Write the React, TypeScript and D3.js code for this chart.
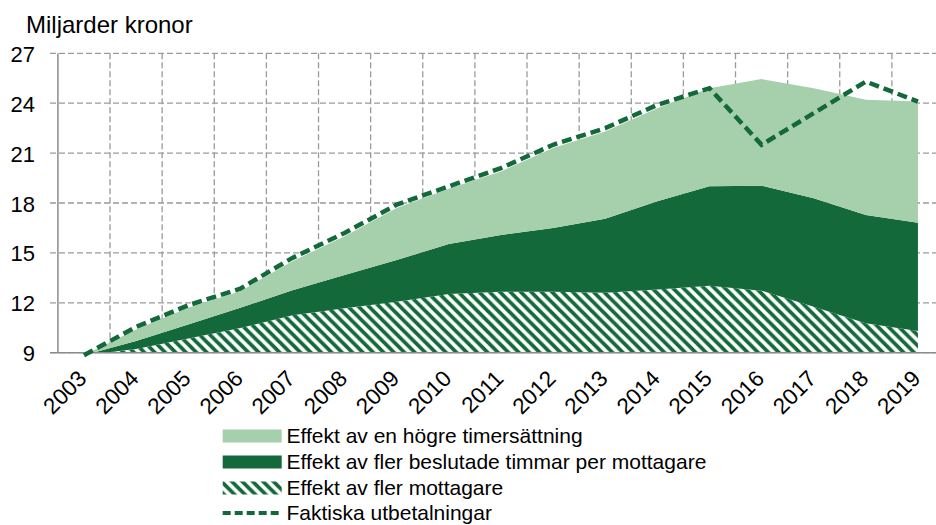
import React from "react";
import * as d3 from "d3";

const years = ["2003","2004","2005","2006","2007","2008","2009","2010","2011","2012","2013","2014","2015","2016","2017","2018","2019"];
const baseLevel = 8.85;
const fleraMottagare = [0, 0.37, 1.0, 1.63, 2.4, 2.82, 3.22, 3.68, 3.82, 3.82, 3.75, 3.95, 4.18, 3.88, 2.92, 1.92, 1.45];
const flerTimmar = [0, 0.48, 0.85, 1.22, 1.5, 2.0, 2.5, 3.01, 3.41, 3.83, 4.45, 5.3, 5.97, 6.31, 6.51, 6.51, 6.52];
const hogreTimersattning = [0, 0.7, 1.0, 1.0, 1.75, 2.33, 3.13, 3.31, 3.82, 4.8, 5.25, 5.6, 5.9, 6.41, 6.62, 6.92, 7.28];
const faktiska = [8.85, 10.55, 11.85, 12.85, 14.7, 16.2, 17.9, 19.0, 20.1, 21.5, 22.5, 23.9, 24.9, 21.5, 23.4, 25.3, 24.1];
const yTicks = [9, 12, 15, 18, 21, 24, 27];
const legendLabels = [
  "Effekt av en högre timersättning",
  "Effekt av fler beslutade timmar per mottagare",
  "Effekt av fler mottagare",
  "Faktiska utbetalningar",
];
const title = "Miljarder kronor";

const DARK = "#13693a";
const LIGHT = "#a6cfac";
const GRID = "#9a9a9a";
const FONT = "Liberation Sans, Arial, sans-serif";

export default function App() {
  const W = 936, H = 525;
  const left = 57.9, right = 944, top = 53.3, bottom = 352.7;
  const x = d3.scalePoint<string>().domain(years).range([left, right]).padding(0.5);
  const step = x.step();
  const y = d3.scaleLinear().domain([9, 27]).range([bottom, top]);

  const table = years.map((yr, i) => ({
    year: yr,
    mottagare: fleraMottagare[i],
    timmar: flerTimmar[i],
    timersattning: hogreTimersattning[i],
  }));
  const stack = d3.stack<any>().keys(["mottagare", "timmar", "timersattning"]);
  const series = stack(table);
  const area = d3
    .area<any>()
    .x((d: any) => x(d.data.year) as number)
    .y0((d: any) => y(d[0] + baseLevel))
    .y1((d: any) => y(d[1] + baseLevel));
  const line = d3
    .line<number>()
    .x((_d, i) => x(years[i]) as number)
    .y((d) => y(d));

  const fills = ["url(#hatch)", DARK, LIGHT];
  const gridX = years.map((yr) => (x(yr) as number) + step / 2);

  const legendX = 222.7;
  const legendRows = [436, 462, 488, 513];

  return (
    <svg width={W} height={H} style={{ position: "absolute", left: 0, top: 0, background: "#fff" }}>
      <defs>
        <pattern id="hatch" patternUnits="userSpaceOnUse" width={10.4} height={10.4}>
          <rect width={10.4} height={10.4} fill="#fff" />
          <path d="M-2.6,-2.6 L13,13 M-2.6,7.8 L2.6,13 M7.8,-2.6 L13,2.6" stroke={DARK} strokeWidth={3.8} />
        </pattern>
        <clipPath id="plotclip">
          <rect x={left} y={0} width={right - left} height={bottom} />
        </clipPath>
      </defs>

      {/* grid */}
      {yTicks.map((t) => (
        <line key={"gy" + t} x1={50} x2={right} y1={y(t)} y2={y(t)} stroke={GRID} strokeWidth={1.3} strokeDasharray="6,3" />
      ))}
      {gridX.map((gx, i) => (
        <line key={"gx" + i} x1={gx} x2={gx} y1={top} y2={bottom} stroke={GRID} strokeWidth={1.3} strokeDasharray="6,3" />
      ))}

      {/* areas */}
      <g clipPath="url(#plotclip)">
        {series.map((s, i) => (
          <path key={"a" + i} d={area(s as any) || ""} fill={fills[i]} />
        ))}
      </g>

      {/* axes */}
      <line x1={left} x2={left} y1={top} y2={bottom} stroke="#8c8c8c" strokeWidth={1.5} />
      <line x1={50} x2={W} y1={bottom} y2={bottom} stroke="#8c8c8c" strokeWidth={1.5} />

      {/* dashed line */}
      <path d={line(faktiska) || ""} fill="none" stroke={DARK} strokeWidth={4.5} strokeDasharray="10,5" />

      {/* y labels */}
      {yTicks.map((t) => (
        <text key={"yl" + t} x={35} y={y(t) + 8.5} textAnchor="end" fontFamily={FONT} fontSize={22} fill="#000">
          {t}
        </text>
      ))}

      {/* x labels */}
      {years.map((yr) => (
        <text
          key={"xl" + yr}
          transform={`translate(${(x(yr) as number) + 4},${380}) rotate(-45)`}
          textAnchor="end"
          fontFamily={FONT}
          fontSize={22.5}
          fill="#000"
        >
          {yr}
        </text>
      ))}

      {/* title */}
      <text x={26} y={32.7} fontFamily={FONT} fontSize={24} fill="#000">
        {title}
      </text>

      {/* legend */}
      <rect x={legendX} y={legendRows[0] - 6.5} width={59} height={13} fill={LIGHT} />
      <rect x={legendX} y={legendRows[1] - 6.5} width={59} height={13} fill={DARK} />
      <rect x={legendX} y={legendRows[2] - 6.5} width={59} height={13} fill="url(#hatch)" />
      <line x1={legendX} x2={legendX + 59} y1={legendRows[3]} y2={legendRows[3]} stroke={DARK} strokeWidth={4} strokeDasharray="8,4" />
      {legendLabels.map((l, i) => (
        <text key={"lg" + i} x={286.5} y={legendRows[i] + 7} fontFamily={FONT} fontSize={21} fill="#000">
          {l}
        </text>
      ))}
    </svg>
  );
}
